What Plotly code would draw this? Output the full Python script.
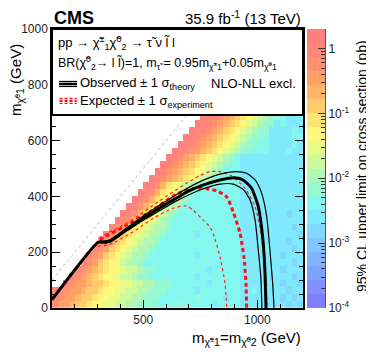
import numpy as np
import plotly.graph_objects as go

# colour bands of the limit map, index 0 = 1e-4 pb ... 19 = 2 pb
BAND_CODES = "0123456789ABCDEFGHIJ"
BAND_COLORS = ["#8080FF", "#8090FF", "#80A2FF", "#80B4FF", "#80C6FF",
               "#80D8FF", "#80EAFC", "#84F8EE", "#98F8D0", "#B0F8B4",
               "#CCFA9C", "#E6FC88", "#FFF87C", "#FFE472", "#FFCC6C",
               "#FFB466", "#FFA066", "#FF9070", "#FF8678", "#FF8080"]
LOG_MIN, LOG_MAX = -4.0, np.log10(2.0)

# limit map, 25 GeV cells, x 100..1200, rows from y=0 up
# '.' = no signal point
LIMIT_ROWS = [
    "HGGFEEDCCBBAA99888" "777787777767777" "6666666" "6565",
    "IHGGFEEDCCBBAA99888" "77777787777677" "6666666" "5656",
    "IIHGGFEEDCCBBAA99888" "7777767777777" "6676666" "6566",
    ".." "IHGGFEEDCCBBAA99888" "777777677777" "6666666" "5665",
    "..." "IHGFEDCCBAA988" "7777777767777777" "6666666" "6656",
    "...." "IHGFEDCCBAA988" "777777777677777" "6666666" "5666",
    "." * 5 + "IHGEDCBA998" "77777777777777777" "6666666" "6656",
    "." * 6 + "IHGEDCBA998" "7777777767777777" "6666666" "5666",
    "." * 7 + "IHGEDCBA998" "777777777777777" "6666766" "6656",
    "." * 8 + "IHGEDCBA998" "77777777777777" "6666666" "6566",
    "." * 9 + "IHGEDCBA998" "7777767777777" "6666666" "6665",
    "." * 10 + "IHGEDCBA998" "777777777777" "6666666" "6656",
    "." * 11 + "JIHFDCBA98" "777777777777" "6666666" "6666",
    "." * 12 + "JIHFDCBA98" "77777777777" "6666666" "6566",
    "." * 13 + "JIHFDCBA98" "7777777777" "6666666" "6666",
    "." * 14 + "JIHFDCBA98" "777777777" "6676666" "6666",
    "." * 15 + "JIHFDCBA98" "77777777" "6666666" "6666",
    "." * 16 + "JIHFDCBA98" "7777777" "6666666" "6666",
    "." * 17 + "JIHGFEDCBA98" "7777" "6666666" "6666",
    "." * 18 + "JIHGFEDCBA98" "777" "6666666" "6666",
    "." * 19 + "JIHGFEDCBA98" "77" "6666666" "6666",
    "." * 20 + "JIHGFEDCBA98" "7" "6666666" "6666",
    "." * 21 + "JIIHGFEDCBA988" "777666766",
    "." * 22 + "JIIHGFEDCBA988" "77666676",
    "." * 23 + "JIIHGFEDCBA988" "7666677",
    "." * 24 + "JIIHGFEDCBA988" "666676",
    "." * 25 + "JIIHGFEDCBA988" "67666",
    "." * 26 + "JIIHGFEDCBA988" "7667",
    "." * 27 + "JIIHGFEDCBA988" "777",
]
CELL = 25
X_START = 100

# observed exclusion contour and +-1 sigma theory
OBS_X = [100, 303, 330, 354, 427, 500, 560, 603, 646, 691, 749, 836, 902, 938, 975, 1004, 1023, 1033, 1038]
OBS_Y = [30, 236, 236, 240, 281, 322, 352, 374, 394, 416, 437, 459, 467, 459, 429, 363, 256, 136, 0]
OBS_UP_X = [303, 354, 427, 500, 560, 646, 749, 836, 909, 953, 990, 1019, 1041, 1055, 1067, 1073]
OBS_UP_Y = [238, 244, 287, 330, 362, 407, 453, 480, 489, 483, 459, 411, 327, 208, 89, 0]
OBS_DN_X = [303, 354, 427, 500, 560, 646, 749, 836, 894, 938, 968, 990, 1004, 1015, 1020]
OBS_DN_Y = [234, 236, 276, 315, 343, 384, 423, 444, 444, 425, 387, 315, 208, 112, 0]

# expected exclusion contour and +-1 sigma experiment
EXP_X = [310, 325, 427, 529, 646, 719, 778, 822, 865, 894, 924, 941, 950, 953]
EXP_Y = [245, 252, 297, 345, 408, 428, 427, 420, 399, 345, 268, 184, 89, 0]
EXP_UP_X = [305, 383, 456, 573, 690, 749, 792, 836, 880, 946, 990, 1011, 1029, 1038, 1043]
EXP_UP_Y = [252, 285, 318, 385, 447, 475, 489, 489, 477, 429, 363, 291, 184, 89, 0]
EXP_DN_X = [300, 354, 456, 544, 632, 690, 719, 763, 792, 807, 836, 858, 866]
EXP_DN_Y = [222, 228, 273, 322, 358, 366, 350, 315, 291, 265, 184, 89, 0]

DIAG = [100, 1000]

X_TICKS = [500, 1000]
Y_TICKS = [0, 200, 400, 600, 800, 1000]
CB_TICKS = [-4, -3, -2, -1, 0]
CB_TEXT = ["10<sup>-4</sup>", "10<sup>-3</sup>", "10<sup>-2</sup>", "10<sup>-1</sup>", "1"]

FONT = "Liberation Sans, Arial, Helvetica, sans-serif"
CHI = "\u03c7\u0303"
TAU = "\u03c4\u0303"
LT = "l\u0303"

for r in LIMIT_ROWS:
    assert len(r) == 44, (r, len(r))

z = [[None if c == "." else BAND_CODES.index(c) + 0.5 for c in row] for row in LIMIT_ROWS]
xc = [X_START + CELL * (i + 0.5) for i in range(44)]
yc = [CELL * (j + 0.5) for j in range(len(LIMIT_ROWS))]

nb = len(BAND_COLORS)
scale = []
for b, col in enumerate(BAND_COLORS):
    scale.append([b / nb, col])
    scale.append([(b + 1) / nb, col])

fig = go.Figure()
fig.add_trace(go.Heatmap(x=xc, y=yc, z=z, colorscale=scale, zmin=0, zmax=nb,
                         showscale=False, hoverinfo="skip"))

fig.add_trace(go.Scatter(x=DIAG, y=DIAG, mode="lines",
                         line=dict(color="#BBBBBB", width=1, dash="3px,3px")))

thin_red = dict(color="#FF2020", width=1.2, dash="3px,3px", shape="spline", smoothing=0.6)
fig.add_trace(go.Scatter(x=EXP_UP_X, y=EXP_UP_Y, mode="lines", line=thin_red))
fig.add_trace(go.Scatter(x=EXP_DN_X, y=EXP_DN_Y, mode="lines", line=thin_red))
fig.add_trace(go.Scatter(x=EXP_X, y=EXP_Y, mode="lines",
                         line=dict(color="#FF1010", width=3, dash="4px,3px", shape="spline", smoothing=0.6)))

thin_blk = dict(color="black", width=1.2, shape="spline", smoothing=0.6)
fig.add_trace(go.Scatter(x=OBS_UP_X, y=OBS_UP_Y, mode="lines", line=thin_blk))
fig.add_trace(go.Scatter(x=OBS_DN_X, y=OBS_DN_Y, mode="lines", line=thin_blk))
fig.add_trace(go.Scatter(x=OBS_X, y=OBS_Y, mode="lines",
                         line=dict(color="black", width=3, shape="spline", smoothing=0.5)))

# colour scale drawn as its own little heatmap
step = (LOG_MAX - LOG_MIN) / nb
fig.add_trace(go.Heatmap(x=[-0.5, 0.5], y=[LOG_MIN + step * b for b in range(nb + 1)],
                         z=[[b + 0.5] for b in range(nb)], colorscale=scale, zmin=0, zmax=nb,
                         showscale=False, hoverinfo="skip", xaxis="x2", yaxis="y2"))

minor_cb = [np.log10(m * 10.0 ** e) for e in range(-4, 1) for m in range(2, 10)
            if np.log10(m * 10.0 ** e) <= LOG_MAX + 1e-9]

# page body adds 8px around the figure, margins are 8px smaller to compensate
W, H = 292, 279
fig.update_layout(
    width=374, height=359,
    margin=dict(l=44, r=374 - 44 - W, t=21, b=359 - 21 - H),
    paper_bgcolor="white", plot_bgcolor="white",
    showlegend=False,
    font=dict(family=FONT, size=12, color="black"),
    xaxis=dict(domain=[0, 251 / W], range=[100, 1200], tickvals=X_TICKS,
               ticks="inside", ticklen=8, tickcolor="black", showline=True,
               linecolor="black", linewidth=1.5, mirror="ticks", showgrid=False,
               zeroline=False, tickfont=dict(size=12, color="#222"),
               minor=dict(dtick=100, tick0=0, ticks="inside", ticklen=4, tickcolor="black")),
    yaxis=dict(domain=[0, 1], range=[0, 1000], tickvals=Y_TICKS,
               ticks="inside", ticklen=8, tickcolor="black", showline=True,
               linecolor="black", linewidth=1.5, mirror="ticks", showgrid=False,
               zeroline=False, tickfont=dict(size=12, color="#222"),
               minor=dict(dtick=50, tick0=0, ticks="inside", ticklen=4, tickcolor="black")),
    xaxis2=dict(domain=[(307 - 52) / W, (325 - 52) / W], range=[-0.5, 0.5], anchor="y2",
                visible=False),
    yaxis2=dict(domain=[0, 1], range=[LOG_MIN, LOG_MAX], anchor="x2", side="right",
                tickvals=CB_TICKS, ticktext=CB_TEXT, ticks="inside", ticklen=7,
                tickcolor="#333", showline=True, linecolor="#555", linewidth=1,
                showgrid=False, zeroline=False, tickfont=dict(size=12, color="#222"),
                minor=dict(tickvals=minor_cb, ticks="inside", ticklen=4, tickcolor="#333")),
)

# legend box
fig.add_shape(type="rect", x0=100, x1=1200, y0=692, y1=1000, xref="x", yref="y",
              fillcolor="white", line=dict(color="black", width=2), layer="above")
for dy, w in [(-9, 1.2), (0, 2.5), (9, 1.2)]:
    fig.add_shape(type="line", x0=131, x1=210, y0=803 + dy, y1=803 + dy, xref="x", yref="y",
                  line=dict(color="black", width=w), layer="above")
    fig.add_shape(type="line", x0=133, x1=208, y0=742 + dy, y1=742 + dy, xref="x", yref="y",
                  line=dict(color="#FF1010", width=w, dash="3px,2px"), layer="above")

def note(text, x, y, size=13, xanchor="left", **kw):
    fig.add_annotation(text=text, x=x, y=y, xref="x", yref="y", showarrow=False,
                       xanchor=xanchor, yanchor="middle", font=dict(size=size, family=FONT, color="black"), **kw)

note(f"pp \u2192 {CHI}<sup>\u00b1</sup><sub>1</sub>{CHI}<sup>0</sup><sub>2</sub> \u2192 {TAU} \u03bd {LT} l", 118, 950)
note(f"BR({CHI}<sup>0</sup><sub>2</sub>\u2192 l {LT})=1, m<sub>{TAU}</sub> = 0.95m<sub>{CHI}<sup>\u00b1</sup>1</sub>+0.05m<sub>{CHI}<sup>0</sup>1</sub>",
     118, 878, size=12.5)
note("Observed \u00b1 1 \u03c3<sub>theory</sub>", 216, 803)
note("NLO-NLL excl.", 1180, 803, xanchor="right")
note("Expected \u00b1 1 \u03c3<sub>experiment</sub>", 216, 740)

# titles, positions in screen pixels of the reference
def px_x(p):
    return (p - 52) / W

def px_y(p):
    return (308 - p) / H

fig.add_annotation(text="<b>CMS</b>", x=px_x(52), y=px_y(17.5), xref="paper", yref="paper",
                   showarrow=False, xanchor="left", yanchor="middle", font=dict(size=18, family=FONT))
fig.add_annotation(text="35.9 fb<sup>-1</sup> (13 TeV)", x=px_x(303), y=px_y(17.5), xref="paper", yref="paper",
                   showarrow=False, xanchor="right", yanchor="middle", font=dict(size=15, family=FONT))
fig.add_annotation(text=f"m<sub>{CHI}<sup>0</sup>1</sub> (GeV)", x=px_x(17), y=px_y(80),
                   xref="paper", yref="paper", showarrow=False, textangle=-90,
                   xanchor="center", yanchor="middle", font=dict(size=15, family=FONT))
fig.add_annotation(text=f"m<sub>{CHI}<sup>\u00b1</sup>1</sub>=m<sub>{CHI}<sup>0</sup>2</sub> (GeV)",
                   x=px_x(303), y=px_y(338), xref="paper", yref="paper", showarrow=False,
                   xanchor="right", yanchor="middle", font=dict(size=15, family=FONT))
fig.add_annotation(text="95% CL upper limit on cross section (pb)", x=px_x(362), y=px_y(166),
                   xref="paper", yref="paper", showarrow=False, textangle=-90,
                   xanchor="center", yanchor="middle", font=dict(size=14, family=FONT))

fig.write_html("out.html")
